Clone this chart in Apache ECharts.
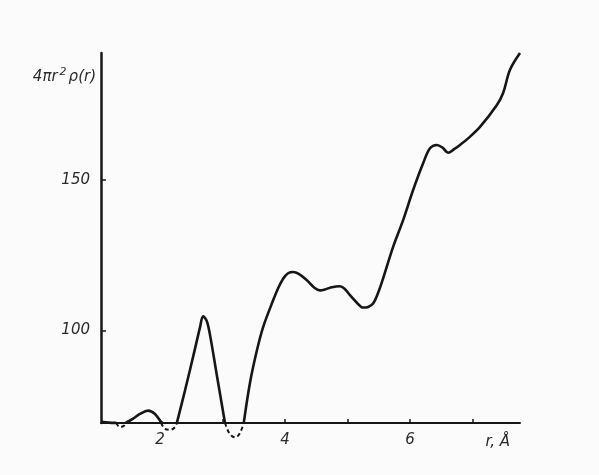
<!DOCTYPE html>
<html>
<head>
<meta charset="utf-8">
<script src="https://cdn.jsdelivr.net/npm/echarts@6/dist/echarts.min.js"></script>
<style>
html,body{margin:0;padding:0;background:#fbfbfb;}
#chart{width:599px;height:475px;}
</style>
</head>
<body>
<div id="chart"></div>
<script>
// r values (Å) and 4πr²ρ(r) values of the solid curve (null separates pieces)
const solidR = [1.06, 1.18, 1.30, null, 1.45, 1.57, 1.68, 1.81, 1.92, 2.0, 2.04, null, 2.27, 2.4, 2.55, 2.64, 2.69, 2.75, 2.8, 2.91, 3.04, null, 3.34, 3.44, 3.55, 3.65, 3.81, 3.89, 3.97, 4.05, 4.13, 4.22, 4.35, 4.47, 4.56, 4.64, 4.72, 4.88, 4.96, 5.04, 5.15, 5.25, 5.33, 5.41, 5.49, 5.57, 5.73, 5.89, 6.05, 6.21, 6.32, 6.43, 6.52, 6.61, 6.7, 6.8, 6.93, 7.12, 7.39, 7.49, 7.6, 7.76];
const solidV = [69.6, 69.3, 69.2, null, 69.2, 70.6, 72.2, 73.3, 72.2, 70.0, 69.2, null, 69.2, 80.0, 93.0, 101.0, 104.7, 103.0, 98.5, 85.0, 69.2, null, 69.2, 82.6, 93.3, 101.1, 110.0, 114.0, 117.2, 119.0, 119.4, 118.8, 116.7, 114.2, 113.3, 113.6, 114.2, 114.7, 113.7, 111.7, 109.2, 107.6, 107.8, 108.9, 112.5, 117.3, 127.8, 136.7, 146.7, 155.6, 160.6, 161.7, 160.8, 159.1, 160.2, 161.7, 163.9, 167.7, 175.0, 179.0, 186.7, 192.3];
// dashed parts below the axis (null separates dips)
const dashR = [1.30, 1.36, 1.42, 1.45, null, 2.02, 2.08, 2.16, 2.24, 2.27, null, 3.04, 3.09, 3.14, 3.2, 3.27, 3.34];
const dashV = [69.2, 67.8, 68.2, 69.2, null, 69.2, 67.2, 66.9, 67.8, 69.2, null, 69.2, 66.5, 65.0, 64.4, 65.5, 69.2];
const xTicks = [2, 3, 4, 5, 6, 7];
const xLabels = [2, 4, 6];
const yLabels = [100, 150];

const solid = solidR.map((r, i) => (r === null ? [null, null] : [r, solidV[i]]));
const dashed = dashR.map((r, i) => (r === null ? [null, null] : [r, dashV[i]]));

const ink = '#161616';
const labelFont = { fontFamily: 'DejaVu Sans', fontStyle: 'italic', fontSize: 15, color: '#2a2a2a' };

const chart = echarts.init(document.getElementById('chart'), null, { renderer: 'canvas' });
chart.setOption({
  backgroundColor: '#fbfbfb',
  animation: false,
  grid: { left: 101, right: 79, top: 53, bottom: 52 },
  xAxis: {
    type: 'value', min: 1.056, max: 7.76,
    name: 'r, Å', nameLocation: 'end', nameGap: -10,
    nameTextStyle: Object.assign({}, labelFont, { align: 'right', verticalAlign: 'top', padding: [12, 0, 0, 0] }),
    axisLine: { lineStyle: { color: ink, width: 2 } },
    axisTick: { inside: true, length: 4, customValues: xTicks, lineStyle: { color: ink, width: 1.5 } },
    axisLabel: Object.assign({ customValues: xLabels, margin: 10 }, labelFont),
    splitLine: { show: false }
  },
  yAxis: {
    type: 'value', min: 69.17, max: 192.3,
    name: '{a|4πr}{s|2}{a|ρ(r)}', nameLocation: 'end', nameGap: -24,
    nameTextStyle: {
      align: 'right', verticalAlign: 'middle', padding: [0, 5, 0, 0],
      rich: {
        a: { fontFamily: 'DejaVu Sans', fontStyle: 'italic', fontSize: 15, color: '#2a2a2a' },
        s: { fontFamily: 'DejaVu Sans', fontStyle: 'italic', fontSize: 11, color: '#2a2a2a', verticalAlign: 'top', padding: [0, 2, 9, 2] }
      }
    },
    axisLine: { show: true, lineStyle: { color: ink, width: 2.5 } },
    axisTick: { show: true, inside: true, length: 5, customValues: yLabels, lineStyle: { color: ink, width: 1.5 } },
    axisLabel: Object.assign({ customValues: yLabels, margin: 11 }, labelFont),
    splitLine: { show: false }
  },
  series: [
    {
      type: 'line', data: solid, smooth: 0.35, symbol: 'none', clip: false, connectNulls: false,
      lineStyle: { color: ink, width: 2.6 }
    },
    {
      type: 'line', data: dashed, smooth: 0.4, symbol: 'none', clip: false, connectNulls: false,
      lineStyle: { color: ink, width: 2, type: [4, 3] }
    }
  ]
});
</script>
</body>
</html>
